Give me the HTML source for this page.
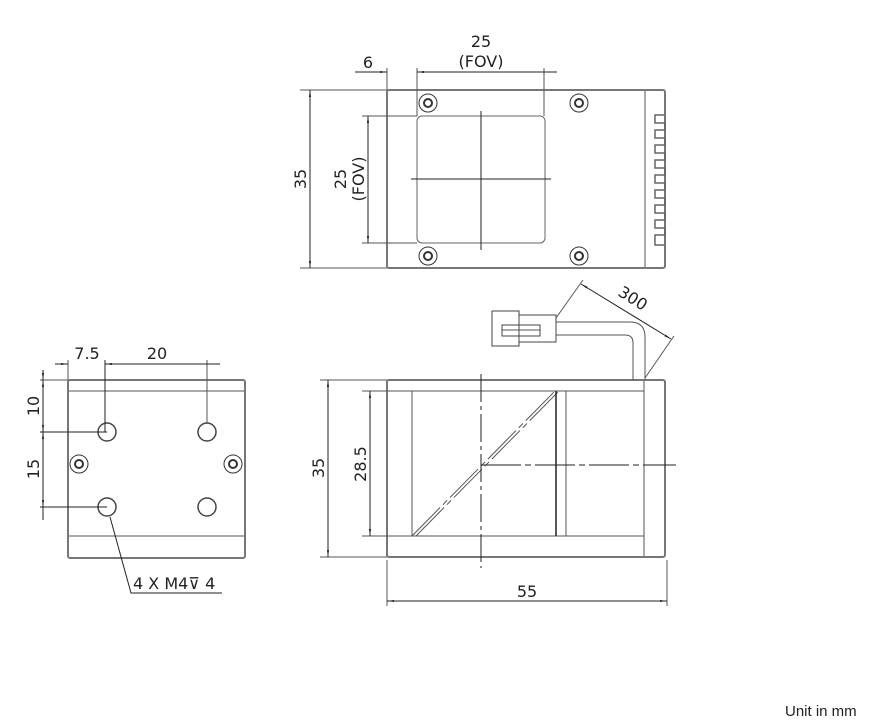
<!DOCTYPE html>
<html><head><meta charset="utf-8"><style>
html,body{margin:0;padding:0;background:#fff;width:890px;height:726px;overflow:hidden}
svg{display:block}
text{font-family:"DejaVu Sans","Liberation Sans",sans-serif;fill:#222}
</style></head><body>
<svg width="890" height="726" viewBox="0 0 890 726" xmlns="http://www.w3.org/2000/svg">
<defs>
<marker id="a" viewBox="0 0 10 10" refX="10" refY="5" markerWidth="7" markerHeight="7" orient="auto-start-reverse"><path d="M0,3.5 L10,5 L0,6.5z" fill="#222"/></marker>
</defs>
<g fill="none" stroke="#555" stroke-width="1">
<rect x="387" y="90" width="278" height="178" rx="2" stroke="#777" stroke-width="2"/>
<line x1="645" y1="91" x2="645" y2="267"/>
<path d="M665,115 H655 V123 H665 V130 H655 V138 H665 V145 H655 V153 H665 V160 H655 V168 H665 V175 H655 V183 H665 V190 H655 V198 H665 V205 H655 V213 H665 V220 H655 V228 H665 V235 H655 V245 H665" stroke="#666" stroke-width="1.5"/>
<rect x="417" y="116" width="128" height="127" rx="5" stroke="#666"/>
<g stroke="#222"><line x1="411" y1="179" x2="551" y2="179"/><line x1="481" y1="111" x2="481" y2="250"/></g>
<g stroke="#333">
<circle cx="428" cy="103" r="9"/><circle cx="428" cy="103" r="4" stroke-width="2"/>
<circle cx="579" cy="103" r="9"/><circle cx="579" cy="103" r="4" stroke-width="2"/>
<circle cx="428" cy="256" r="9"/><circle cx="428" cy="256" r="4" stroke-width="2"/>
<circle cx="579" cy="256" r="9"/><circle cx="579" cy="256" r="4" stroke-width="2"/>
</g>
<line x1="300" y1="90" x2="387" y2="90"/><line x1="300" y1="268" x2="387" y2="268"/>
<line x1="310" y1="90" x2="310" y2="268" stroke="#222" marker-start="url(#a)" marker-end="url(#a)"/>
<line x1="362" y1="116" x2="417" y2="116"/><line x1="362" y1="243" x2="417" y2="243"/>
<line x1="368" y1="116" x2="368" y2="243" stroke="#222" marker-start="url(#a)" marker-end="url(#a)"/>
<line x1="387" y1="68" x2="387" y2="90"/><line x1="417" y1="68" x2="417" y2="116"/><line x1="544" y1="68" x2="544" y2="116"/>
<line x1="355" y1="72" x2="387" y2="72" stroke="#222" marker-end="url(#a)"/>
<line x1="417" y1="72" x2="557" y2="72" stroke="#222" marker-start="url(#a)"/>

<rect x="387" y="380" width="278" height="177" rx="2" stroke="#777" stroke-width="2"/>
<line x1="388" y1="391" x2="644" y2="391"/><line x1="388" y1="536" x2="644" y2="536"/>
<line x1="412" y1="391" x2="412" y2="536"/><line x1="644" y1="381" x2="644" y2="556"/>
<line x1="412" y1="536" x2="555" y2="391" stroke-dasharray="40 4 6 4"/>
<line x1="416" y1="536" x2="559" y2="391" stroke-dasharray="40 4 6 4"/>
<line x1="556" y1="391" x2="556" y2="536" stroke="#222" stroke-width="1.5"/>
<line x1="566" y1="391" x2="566" y2="536"/>
<g stroke="#222"><line x1="481" y1="374" x2="481" y2="568" stroke-dasharray="28 4 4 4"/>
<line x1="481" y1="465" x2="676" y2="465" stroke-dasharray="40 4 6 4"/></g>
<rect x="492" y="311" width="27" height="35" stroke="#444"/>
<rect x="519" y="315" width="37" height="27" stroke="#444"/>
<rect x="502" y="325" width="38" height="11" stroke="#444"/>
<line x1="502" y1="330" x2="540" y2="330"/>
<path d="M556,322 H630 Q645,322 645,337 V380"/>
<path d="M556,335 H625 Q633,335 633,343 V380"/>
<line x1="556" y1="318" x2="583" y2="280"/>
<line x1="645" y1="378" x2="674" y2="336"/>
<line x1="581" y1="284" x2="671" y2="339" stroke="#222" marker-start="url(#a)" marker-end="url(#a)"/>
<line x1="320" y1="380" x2="387" y2="380"/><line x1="320" y1="557" x2="387" y2="557"/>
<line x1="328" y1="380" x2="328" y2="557" stroke="#222" marker-start="url(#a)" marker-end="url(#a)"/>
<line x1="362" y1="391" x2="412" y2="391"/><line x1="362" y1="536" x2="412" y2="536"/>
<line x1="370" y1="391" x2="370" y2="536" stroke="#222" marker-start="url(#a)" marker-end="url(#a)"/>
<line x1="387" y1="560" x2="387" y2="606"/><line x1="667" y1="560" x2="667" y2="606"/>
<line x1="387" y1="601" x2="667" y2="601" stroke="#222" marker-start="url(#a)" marker-end="url(#a)"/>

<rect x="68" y="380" width="177" height="178" rx="2" stroke="#777" stroke-width="2"/>
<line x1="69" y1="391" x2="244" y2="391"/><line x1="69" y1="536" x2="244" y2="536"/>
<g stroke="#444" stroke-width="1.5">
<circle cx="107" cy="432" r="9"/><circle cx="207" cy="432" r="9"/>
<circle cx="107" cy="507" r="9"/><circle cx="207" cy="507" r="9"/>
</g>
<g stroke="#333"><circle cx="79" cy="464" r="9"/><circle cx="79" cy="464" r="4" stroke-width="2"/>
<circle cx="233" cy="464" r="9"/><circle cx="233" cy="464" r="4" stroke-width="2"/></g>
<line x1="68" y1="360" x2="68" y2="380"/><line x1="105" y1="360" x2="105" y2="432" stroke="#222"/><line x1="207" y1="360" x2="207" y2="424"/>
<line x1="55" y1="364" x2="68" y2="364" stroke="#222" marker-end="url(#a)"/>
<line x1="105" y1="364" x2="220" y2="364" stroke="#222" marker-start="url(#a)"/>
<line x1="40" y1="380" x2="68" y2="380"/>
<line x1="40" y1="432" x2="107" y2="432" stroke="#222"/>
<line x1="40" y1="507" x2="107" y2="507" stroke="#222"/>
<line x1="43" y1="370" x2="43" y2="380" stroke="#222" marker-end="url(#a)"/>
<line x1="43" y1="380" x2="43" y2="432" stroke="#222" marker-start="url(#a)" marker-end="url(#a)"/>
<line x1="43" y1="432" x2="43" y2="507" stroke="#222" marker-start="url(#a)" marker-end="url(#a)"/>
<line x1="43" y1="507" x2="43" y2="520" stroke="#222"/>
<polyline points="110,517 131,593 222,593" stroke="#222"/>
</g>
<g font-size="16">
<text x="481" y="47" text-anchor="middle">25</text>
<text x="481" y="67" text-anchor="middle">(FOV)</text>
<text x="368" y="68" text-anchor="middle">6</text>
<text transform="translate(306,179) rotate(-90)" text-anchor="middle">35</text>
<text transform="translate(346,179) rotate(-90)" text-anchor="middle">25</text>
<text transform="translate(364,179) rotate(-90)" text-anchor="middle">(FOV)</text>
<text transform="translate(630,303) rotate(32)" text-anchor="middle">300</text>
<text transform="translate(324,468) rotate(-90)" text-anchor="middle">35</text>
<text transform="translate(366,464) rotate(-90)" text-anchor="middle">28.5</text>
<text x="527" y="597" text-anchor="middle">55</text>
<text x="87" y="359" text-anchor="middle">7.5</text>
<text x="157" y="359" text-anchor="middle">20</text>
<text transform="translate(39,406) rotate(-90)" text-anchor="middle">10</text>
<text transform="translate(39,469) rotate(-90)" text-anchor="middle">15</text>
<text x="133" y="589">4 X M4⊽ 4</text>
</g>
<text x="785" y="716" font-size="15" style="font-family:'Liberation Sans',sans-serif">Unit in mm</text>
</svg>
</body></html>
